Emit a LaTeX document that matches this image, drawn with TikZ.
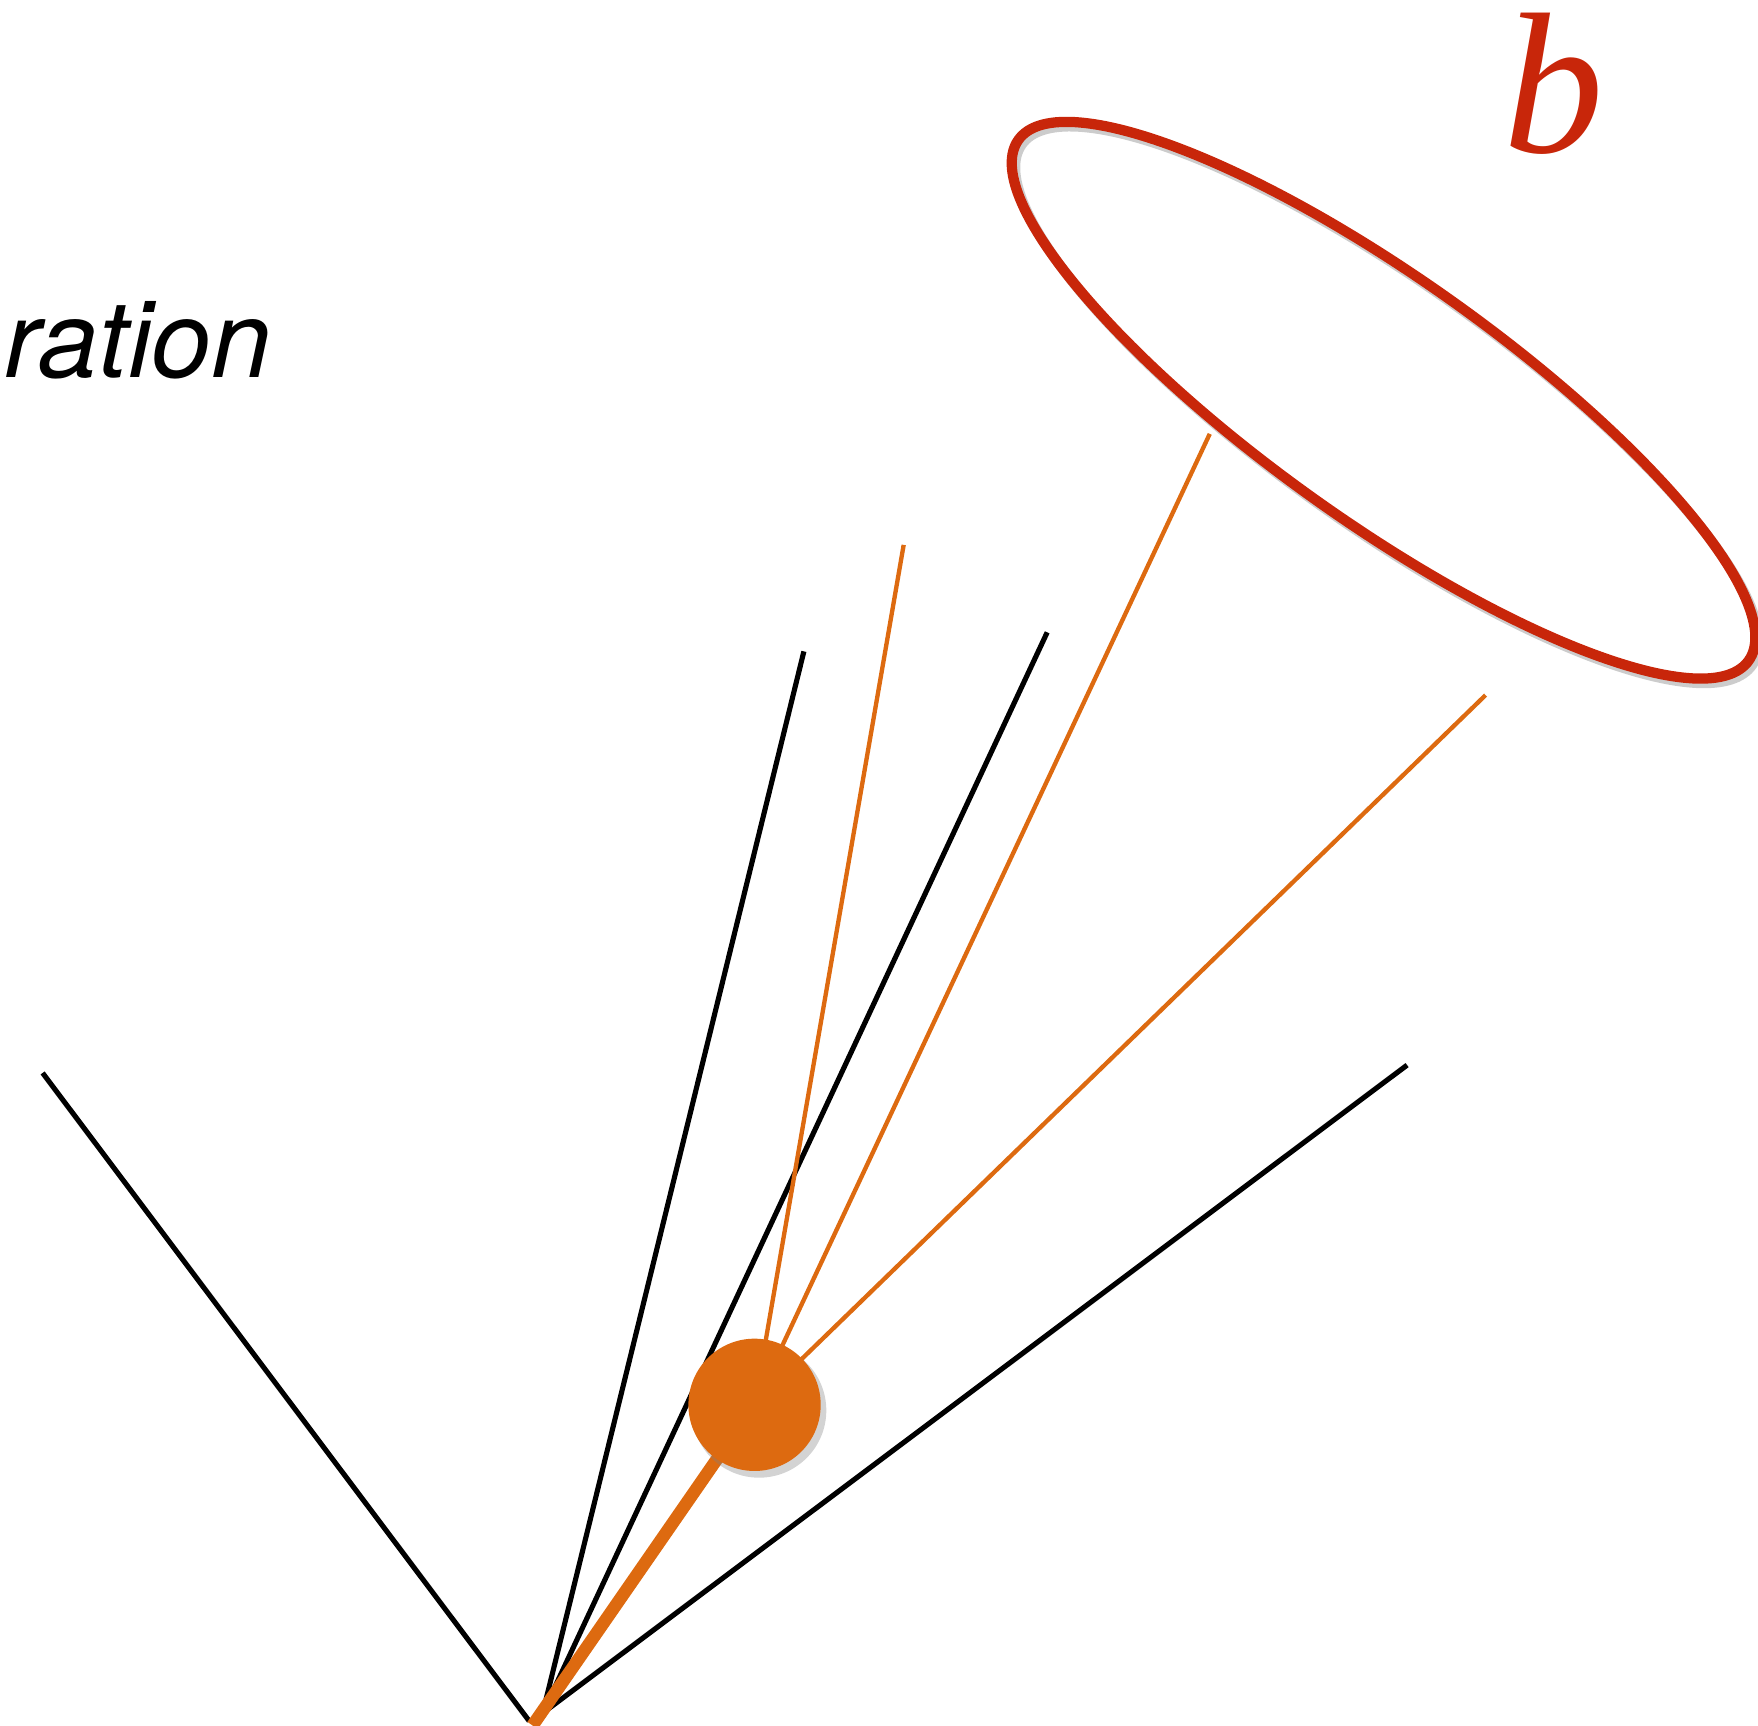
\documentclass[tikz,border=0pt]{standalone}
\usepackage{fontspec}
\newfontfamily\herosfont{TeX Gyre Heros}
\newfontfamily\labelfont{Liberation Serif}
\usepackage{tikz}
\usetikzlibrary{calc,shapes.geometric}
\definecolor{jetorange}{RGB}{221,106,16}
\definecolor{conered}{RGB}{200,38,10}
\tikzset{
  track/.style={line width=1.3pt, black},
  jettrack/.style={line width=1.1pt, jetorange},
  shade/.style={gray, opacity=0.35}
}

\begin{document}
\begin{tikzpicture}
  \useasboundingbox (0,0) rectangle (15.68,15.39);

  % === VERTEX AND TRACKS ===
  \coordinate (vtxA) at (4.72,0.04);
  \coordinate (vtxB) at (4.84,0.11);
  \coordinate (endA) at (0.38,5.82);
  \coordinate (endB) at (7.17,9.58);
  \coordinate (endC) at (9.34,9.75);
  \coordinate (endD) at (12.55,5.89);

  \draw[track] (vtxA) -- (endA);
  \foreach \e in {endB,endC,endD} {
    \draw[track] (vtxB) -- (\e);
  }

  % === PARTICLE AND ITS PRODUCTS ===
  \coordinate (blobc) at (6.73,2.86);
  \coordinate (jetA) at (8.06,10.53);
  \coordinate (jetB) at (10.79,11.52);
  \coordinate (jetC) at (13.25,9.19);
  \coordinate (beam) at (4.75,0.00);

  \foreach \e in {jetA,jetB,jetC} {
    \draw[jettrack] (blobc) -- (\e);
  }
  \draw[line width=3.2pt, jetorange] (beam) -- (blobc);

  % shadow, then particle
  \fill[shade] ($(blobc)+(0.04,-0.05)$) circle (0.6);
  \node[circle, fill=jetorange, minimum size=1.18cm, inner sep=0pt]
    (blob) at (blobc) {};

  % === CONE ===
  \node[ellipse, draw=gray, opacity=0.4, line width=2.6pt,
    minimum width=8.0cm, minimum height=2.15cm, rotate=-35.5]
    (coneshade) at (12.37,11.78) {};
  \node[ellipse, draw=conered, line width=2.6pt,
    minimum width=8.0cm, minimum height=2.15cm, rotate=-35.5]
    (cone) at (12.34,11.82) {};

  % === LABELS ===
  \node[anchor=base west, inner sep=0pt,
    font=\herosfont\itshape\fontsize{27.3}{30}\selectfont]
    (word) at (0.03,12.02) {ration};
  \node[anchor=base west, inner sep=0pt, conered,
    font=\labelfont\itshape\fontsize{51}{58}\selectfont]
    (blabel) at (13.40,14.03) {b};
\end{tikzpicture}
\end{document}
